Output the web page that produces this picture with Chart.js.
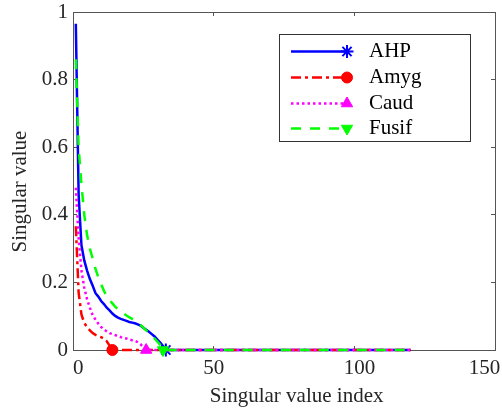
<!DOCTYPE html>
<html>
<head>
<meta charset="utf-8">
<script src="https://cdn.jsdelivr.net/npm/chart.js@4.4.1/dist/chart.umd.min.js"></script>
<style>
  html, body { margin: 0; padding: 0; background: #fff; }
  #wrap { width: 502px; height: 410px; }
</style>
</head>
<body>
<div id="wrap"><canvas id="svChart" width="502" height="410"></canvas></div>
<script>
// singular values, index 1..n (last one is the first zero)
const seriesNames = ['AHP', 'Amyg', 'Caud', 'Fusif'];
const ahpValues = [0.965, 0.46, 0.31, 0.265, 0.235, 0.21, 0.19, 0.168, 0.158, 0.145,
    0.136, 0.125, 0.117, 0.108, 0.101, 0.096, 0.092, 0.089, 0.086, 0.083,
    0.081, 0.079, 0.076, 0.072, 0.066, 0.06, 0.054, 0.047, 0.04, 0.031,
    0.022, 0.012, 0];
const amygValues = [0.366, 0.17, 0.105, 0.08, 0.068, 0.058, 0.05, 0.045, 0.041, 0.038,
    0.034, 0.026, 0.013, 0];
const caudValues = [0.48, 0.33, 0.235, 0.185, 0.15, 0.125, 0.103, 0.09, 0.078, 0.068,
    0.061, 0.055, 0.05, 0.047, 0.044, 0.041, 0.038, 0.036, 0.034, 0.031,
    0.029, 0.027, 0.023, 0.017, 0.009, 0];
const fusifValues = [0.86, 0.6, 0.49, 0.4, 0.34, 0.3, 0.27, 0.24, 0.215, 0.195,
    0.175, 0.16, 0.148, 0.138, 0.128, 0.12, 0.114, 0.108, 0.102, 0.097,
    0.092, 0.087, 0.081, 0.074, 0.066, 0.058, 0.05, 0.042, 0.034, 0.025,
    0.015, 0];
const lastIndex = 120; // every series stays at zero up to here
const xTicks = [0, 50, 100, 150];
const xTickLabels = ['\u20020', '50', '\u2002100', '150\u2002\u2002']; // nudged like the matlab export
const yTicks = [0, 0.2, 0.4, 0.6, 0.8, 1];
const yTickLabels = ['0', '0.2', '0.4', '0.6', '0.8', '1'];

const FONT = "'Liberation Serif', 'DejaVu Serif', serif";
const TEXT = '#262626';
const AXIS = '#555';

const looks = [
    { color: '#0000ff', dash: [], marker: 'star', rot: 0 },
    { color: '#ff0000', dash: [10, 4, 3, 4], marker: 'circle', rot: 0 },
    { color: '#ff00ff', dash: [2.5, 3], marker: 'triangle', rot: 0 },
    { color: '#00ff00', dash: [10, 9], marker: 'triangle', rot: 180 }
];

function toPoints(values) {
    const pts = values.map((v, i) => ({ x: i + 1, y: v }));
    pts.push({ x: lastIndex, y: 0 });
    return pts;
}

const allValues = [ahpValues, amygValues, caudValues, fusifValues];

const datasets = allValues.map((vals, i) => {
    const look = looks[i];
    const markAt = vals.length - 1;
    return {
        label: seriesNames[i],
        data: toPoints(vals),
        borderColor: look.color,
        backgroundColor: look.color,
        borderWidth: 2.5,
        borderDash: look.dash,
        tension: 0,
        clip: false,
        order: 3 - i, // later series drawn on top, like matlab
        pointStyle: look.marker,
        pointRotation: look.rot,
        pointRadius: ctx => ctx.dataIndex === markAt ? (look.marker === 'circle' ? 5.5 : 6.5) : 0,
        pointBorderWidth: look.marker === 'star' ? 2 : 1,
        pointBackgroundColor: look.color,
        pointBorderColor: look.color
    };
});

function flatPadding(s) {
    s.paddingLeft = 0; s.paddingRight = 0; s.paddingTop = 0; s.paddingBottom = 0;
}

// legend box drawn inside the plot, line + marker like the original
const boxLegend = {
    id: 'boxLegend',
    afterDraw(chart) {
        const ctx = chart.ctx;
        const L = 279.5, T = 34.5, R = 470.5, B = 141.5;
        const rows = [51.5, 77.5, 103.5, 128.5];
        ctx.save();
        ctx.fillStyle = '#fff';
        ctx.fillRect(L, T, R - L, B - T);
        ctx.strokeStyle = '#333';
        ctx.lineWidth = 1;
        ctx.strokeRect(L, T, R - L, B - T);
        chart.data.datasets.forEach((ds, i) => {
            const y = rows[i];
            const look = looks[i];
            ctx.strokeStyle = look.color;
            ctx.lineWidth = 2.5;
            ctx.setLineDash(look.dash);
            ctx.beginPath();
            ctx.moveTo(291, y);
            ctx.lineTo(347, y);
            ctx.stroke();
            ctx.setLineDash([]);
            ctx.fillStyle = look.color;
            ctx.lineWidth = look.marker === 'star' ? 2 : 1;
            Chart.helpers.drawPoint(ctx, {
                pointStyle: look.marker,
                rotation: look.rot,
                radius: look.marker === 'circle' ? 5.5 : 6.5,
                borderWidth: ctx.lineWidth
            }, 347, y);
            ctx.fillStyle = '#000';
            ctx.font = '21px ' + FONT;
            ctx.textAlign = 'left';
            ctx.textBaseline = 'middle';
            ctx.fillText(ds.label, 369, y);
        });
        ctx.restore();
    }
};

const innerTicks = { drawOnChartArea: false, drawTicks: true, tickLength: -4, color: AXIS, tickColor: AXIS };

new Chart(document.getElementById('svChart').getContext('2d'), {
    type: 'line',
    data: { datasets: datasets },
    options: {
        responsive: false,
        animation: false,
        devicePixelRatio: 1,
        layout: { padding: { left: 0, right: 7, top: 12, bottom: 0 } },
        plugins: {
            legend: { display: false },
            tooltip: { enabled: false }
        },
        scales: {
            x: {
                type: 'linear',
                position: 'bottom',
                min: 0, max: 150,
                afterBuildTicks: s => { s.ticks = xTicks.map(v => ({ value: v })); },
                afterFit: s => { s.height = 60; flatPadding(s); },
                grid: innerTicks,
                border: { color: AXIS, width: 1 },
                ticks: { color: TEXT, font: { family: FONT, size: 21 }, padding: 10, maxRotation: 0,
                         callback: (v, i) => xTickLabels[i] },
                title: { display: true, text: '\u2003\u2009Singular value index', color: TEXT,
                         font: { family: FONT, size: 21 }, padding: { top: 0, bottom: 1 } }
            },
            y: {
                type: 'linear',
                position: 'left',
                min: 0, max: 1,
                afterBuildTicks: s => { s.ticks = yTicks.map(v => ({ value: v })); },
                afterFit: s => { s.width = 73; flatPadding(s); },
                grid: innerTicks,
                border: { color: AXIS, width: 1 },
                ticks: { color: TEXT, font: { family: FONT, size: 21 }, padding: 9,
                         callback: (v, i) => yTickLabels[i] },
                title: { display: true, text: 'Singular value\u2002\u2002', color: TEXT,
                         font: { family: FONT, size: 21 }, padding: { top: 8, bottom: 0 } }
            },
            xTop: {
                type: 'linear',
                position: 'top',
                min: 0, max: 150,
                afterBuildTicks: s => { s.ticks = xTicks.map(v => ({ value: v })); },
                afterFit: s => { s.height = 0; flatPadding(s); },
                grid: innerTicks,
                border: { color: AXIS, width: 1 },
                ticks: { display: false }
            },
            yRight: {
                type: 'linear',
                position: 'right',
                min: 0, max: 1,
                afterBuildTicks: s => { s.ticks = yTicks.map(v => ({ value: v })); },
                afterFit: s => { s.width = 0; flatPadding(s); },
                grid: innerTicks,
                border: { color: AXIS, width: 1 },
                ticks: { display: false }
            }
        }
    },
    plugins: [boxLegend]
});
</script>
</body>
</html>
